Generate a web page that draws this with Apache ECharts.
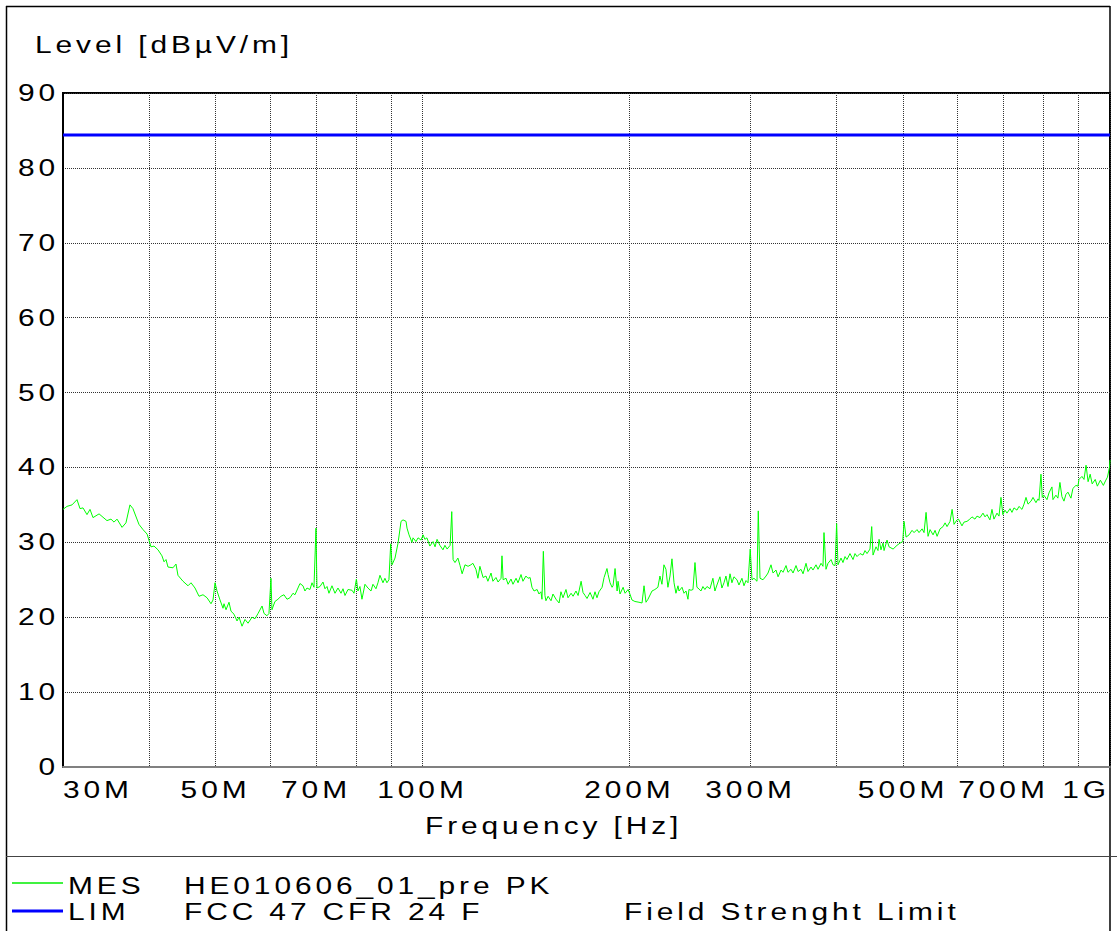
<!DOCTYPE html>
<html>
<head>
<meta charset="utf-8">
<script src="https://cdn.jsdelivr.net/npm/echarts@6/dist/echarts.min.js"></script>
<style>
  html, body { margin: 0; padding: 0; background: #fff; }
  #chart { width: 1117px; height: 931px; }
  #chart svg text { letter-spacing: 3px; }
</style>
</head>
<body>
<div id="chart"></div>
<script>
// Measured peak trace (MES): frequency in MHz and level in dBµV/m
const mesFreqMHz = [
  30.00, 30.40, 30.92, 31.44, 31.76, 32.08, 32.51, 32.84, 33.17, 33.85,
  34.76, 35.23, 35.59, 35.95, 36.56, 37.04, 37.54, 37.92, 38.69, 39.22,
  39.76, 40.28, 40.69, 41.24, 41.79, 42.08, 42.36, 42.64, 43.36, 43.80,
  44.09, 44.84, 45.60, 46.06, 46.68, 47.31, 47.95, 48.60, 49.25, 49.58,
  49.92, 50.25, 50.76, 51.27, 51.44, 51.79, 52.31, 52.66, 53.20, 53.73,
  54.09, 54.64, 55.19, 55.75, 56.50, 57.07, 57.65, 58.43, 58.82, 59.41,
  59.80, 60.20, 60.40, 61.01, 61.63, 62.25, 62.88, 63.52, 64.16, 64.81,
  65.24, 66.34, 67.01, 67.46, 67.92, 68.60, 69.07, 69.53, 70.00, 70.23,
  70.94, 71.66, 72.14, 72.63, 73.11, 73.85, 74.60, 75.35, 76.12, 76.63,
  77.14, 77.92, 78.97, 79.50, 80.15, 80.56, 81.10, 81.65, 82.48, 83.31,
  84.15, 84.71, 85.57, 86.14, 86.72, 87.60, 88.18, 88.77, 89.37, 89.90,
  90.30, 91.21, 92.14, 93.07, 93.69, 94.64, 94.95, 95.59, 96.55, 96.88,
  97.86, 98.52, 99.52, 100.2, 100.8, 101.5, 102.5, 103.6, 104.3, 105.0,
  106.0, 107.1, 107.8, 108.6, 109.7, 110.3, 110.8, 111.5, 112.6, 113.4,
  114.2, 115.3, 116.5, 117.6, 118.4, 119.6, 120.4, 121.2, 122.5, 123.7,
  124.5, 125.8, 126.6, 127.9, 128.8, 130.1, 130.5, 131.0, 132.3, 133.2,
  134.5, 135.4, 136.8, 137.7, 139.1, 140.0, 141.4, 142.4, 143.4, 144.3,
  145.3, 146.8, 147.7, 148.7, 149.2, 149.9, 150.7, 151.2, 152.3, 153.8,
  154.8, 156.4, 158.0, 159.0, 160.1, 161.7, 162.8, 164.5, 165.6, 167.2,
  168.4, 170.1, 171.2, 172.4, 173.5, 175.3, 177.0, 178.2, 179.4, 180.6,
  182.5, 183.7, 185.5, 186.2, 187.4, 188.7, 189.3, 190.6, 191.9, 192.5,
  193.8, 195.8, 197.1, 199.1, 200.3, 201.7, 203.7, 206.5, 208.6, 210.0,
  211.4, 212.8, 215.7, 217.8, 220.0, 221.5, 223.0, 224.5, 226.0, 227.5,
  229.1, 230.6, 232.2, 233.7, 235.3, 236.1, 238.5, 240.1, 241.7, 243.3,
  244.1, 245.8, 247.4, 249.1, 250.7, 251.6, 254.1, 255.8, 257.5, 259.3,
  261.9, 264.5, 266.3, 268.1, 270.8, 272.6, 274.5, 276.3, 278.2, 280.1,
  281.9, 283.8, 286.7, 288.6, 291.5, 293.5, 295.5, 297.5, 299.7, 301.5,
  303.5, 306.6, 307.9, 309.7, 312.8, 316.0, 318.1, 321.3, 323.5, 326.7,
  329.0, 332.3, 334.5, 337.9, 340.1, 343.6, 345.9, 349.4, 351.8, 355.3,
  357.7, 361.3, 363.7, 367.4, 369.8, 373.6, 376.1, 379.9, 382.4, 383.7,
  386.3, 388.9, 392.9, 395.5, 398.2, 400.3, 402.1, 406.2, 408.9, 411.7,
  414.4, 418.6, 422.9, 425.7, 428.6, 432.9, 437.3, 440.2, 443.2, 447.6,
  450.2, 452.2, 456.7, 459.8, 461.4, 464.4, 467.6, 469.2, 473.9, 477.1,
  483.6, 490.0, 495.0, 499.5, 501.7, 505.1, 510.2, 515.3, 518.8, 524.0,
  527.5, 532.9, 536.4, 540.1, 543.7, 547.4, 552.9, 556.6, 560.4, 566.0,
  571.7, 575.6, 579.4, 585.3, 589.3, 593.2, 599.0, 602.0, 609.1, 613.2,
  619.4, 623.6, 629.9, 636.2, 640.5, 647.0, 653.5, 658.0, 662.3, 668.9,
  673.5, 678.0, 684.9, 689.5, 694.1, 698.4, 703.5, 708.2, 715.4, 720.1,
  725.0, 732.3, 737.2, 744.7, 749.8, 754.8, 759.9, 767.6, 772.7, 780.4,
  785.8, 788.4, 793.6, 797.0, 801.3, 809.7, 815.1, 823.3, 826.1, 834.3,
  839.9, 845.6, 851.3, 857.1, 862.8, 868.6, 877.4, 883.2, 892.2, 898.2,
  901.2, 910.3, 916.6, 922.9, 929.3, 935.7, 942.1, 951.8, 958.5, 968.3,
  978.0, 984.9, 991.5, 998.2, 1000.0
];
const mesLevel = [
  34.4, 34.8, 35.0, 35.7, 34.5, 34.6, 33.7, 34.4, 33.3, 33.8,
  32.9, 33.1, 32.7, 33.1, 32.0, 32.6, 35.0, 34.5, 32.4, 31.7,
  31.1, 29.4, 29.5, 29.0, 28.2, 27.4, 27.7, 26.7, 26.6, 27.1,
  25.6, 24.8, 24.2, 24.6, 23.9, 22.8, 23.0, 22.6, 21.8, 22.3,
  24.6, 23.5, 22.3, 21.2, 21.8, 21.0, 22.0, 20.8, 20.4, 19.5,
  20.0, 18.8, 19.7, 19.2, 20.0, 19.8, 20.5, 21.5, 20.5, 20.2,
  20.5, 25.2, 21.0, 22.1, 22.4, 22.8, 23.0, 22.4, 22.6, 23.2,
  23.0, 24.5, 24.2, 23.5, 23.9, 23.7, 24.6, 24.0, 31.9, 23.9,
  24.1, 24.7, 23.8, 24.1, 23.2, 24.2, 23.2, 23.9, 23.2, 23.8,
  22.9, 23.7, 23.6, 23.2, 25.1, 23.5, 24.1, 22.4, 24.4, 23.9,
  23.5, 24.4, 23.8, 24.6, 25.6, 24.6, 25.2, 24.6, 25.0, 29.8,
  27.0, 27.9, 29.9, 32.8, 33.0, 32.8, 31.9, 31.0, 30.0, 30.6,
  30.1, 30.6, 30.3, 31.0, 30.4, 30.6, 29.5, 30.1, 29.4, 30.4,
  29.6, 29.0, 29.6, 29.1, 29.6, 34.1, 27.7, 27.3, 27.9, 26.9,
  25.8, 27.0, 26.8, 27.0, 27.2, 26.4, 25.2, 26.8, 25.3, 25.5,
  24.8, 25.9, 24.8, 25.3, 24.7, 25.2, 28.2, 25.0, 25.2, 24.4,
  25.1, 24.4, 25.2, 24.6, 25.7, 24.8, 25.5, 25.2, 25.3, 24.0,
  23.5, 23.7, 23.1, 23.4, 22.4, 28.8, 22.9, 22.2, 22.8, 22.2,
  23.1, 22.4, 21.9, 23.4, 22.6, 23.7, 22.6, 23.2, 22.8, 23.5,
  22.9, 24.8, 23.3, 22.9, 22.5, 23.3, 22.4, 23.4, 22.6, 23.4,
  24.0, 25.3, 26.5, 25.7, 24.6, 24.0, 24.2, 26.5, 23.5, 24.8,
  23.1, 24.0, 23.2, 23.7, 23.1, 22.3, 22.1, 22.0, 21.9, 24.2,
  22.0, 22.4, 23.5, 23.7, 24.0, 25.5, 24.4, 27.0, 26.4, 24.0,
  25.5, 27.8, 24.6, 23.2, 24.2, 23.5, 24.0, 23.2, 23.5, 22.4,
  23.7, 23.6, 23.7, 27.3, 24.0, 23.9, 23.5, 24.1, 23.7, 24.1,
  23.8, 25.2, 23.5, 24.3, 25.4, 23.9, 24.6, 25.5, 24.1, 25.8,
  24.6, 25.4, 25.0, 24.3, 25.2, 24.2, 24.9, 24.6, 29.1, 25.0,
  25.2, 24.8, 34.2, 25.2, 25.0, 25.5, 25.9, 27.0, 25.9, 26.3,
  25.4, 26.3, 26.0, 26.9, 26.0, 26.4, 25.9, 26.9, 26.1, 26.4,
  25.8, 27.2, 26.1, 26.7, 26.3, 27.0, 26.4, 27.2, 26.8, 31.3,
  26.4, 27.2, 27.7, 27.0, 26.9, 32.5, 27.0, 27.9, 27.3, 28.1,
  27.7, 28.5, 27.7, 28.5, 28.1, 28.5, 28.3, 28.9, 28.5, 29.1,
  32.1, 28.3, 29.4, 28.9, 30.4, 29.0, 29.9, 28.9, 30.3, 29.4,
  29.1, 29.6, 29.9, 30.1, 32.8, 30.7, 31.0, 31.6, 31.3, 31.7,
  31.3, 31.8, 31.3, 34.0, 30.8, 31.7, 31.0, 31.6, 30.8, 31.8,
  32.1, 32.6, 32.1, 32.8, 34.4, 32.4, 33.0, 33.1, 32.2, 32.7,
  32.8, 33.0, 33.4, 33.1, 33.5, 33.3, 33.9, 33.4, 33.7, 33.0,
  34.4, 33.1, 33.9, 33.5, 36.0, 33.7, 34.3, 33.9, 34.5, 34.0,
  34.6, 34.3, 34.8, 34.4, 35.1, 36.0, 35.1, 35.5, 36.0, 35.3,
  35.8, 35.6, 39.1, 36.0, 36.3, 35.7, 36.6, 37.4, 35.7, 36.3,
  35.9, 38.0, 36.1, 35.5, 36.4, 36.7, 35.9, 37.2, 37.6, 37.5,
  38.4, 38.8, 38.4, 40.3, 38.1, 39.1, 37.8, 38.4, 37.5, 38.3,
  37.6, 38.2, 38.7, 40.0, 41.0
];

// Limit line (LIM): FCC 47 CFR 24 field strength limit
const limFreqMHz = [30, 1000];
const limLevel = [84.4, 84.4];

// Frequency grid (MHz) and labelled frequencies
const gridFreqMHz = [30, 40, 50, 60, 70, 80, 90, 100, 200, 300, 400, 500, 600, 700, 800, 900, 1000];
const labelFreqMHz = [30, 50, 70, 100, 200, 300, 500, 700, 1000];

// Level axis range
const levelMin = 0;
const levelMax = 90;
const levelStep = 10;

// Legend / header texts
const yTitle = 'Level [dBµV/m]';
const xTitle = 'Frequency [Hz]';
const legendRows = [
  { tag: 'MES', trace: 'HE010606_01_pre PK', note: '' },
  { tag: 'LIM', trace: 'FCC 47 CFR 24 F', note: 'Field Strenght Limit' }
];

const FONT_FAMILY = '"Liberation Sans", Arial, Helvetica, sans-serif';
const FONT_SIZE = 23;
const FONT = FONT_SIZE + 'px ' + FONT_FAMILY;
const GLYPH_STRETCH = 1.3;
const GRID_COLOR = '#333';

function freqLabel(v) {
  const f = Math.round(v);
  return f >= 1000 ? (f / 1000) + 'G' : f + 'M';
}

const chart = echarts.init(document.getElementById('chart'), null, { renderer: 'svg' });

const textItem = (x, y, text) => ({
  type: 'text', x: x, y: y, silent: true,
  style: { text: text, font: FONT, fill: '#000', textAlign: 'left', textVerticalAlign: 'middle' }
});
const lineItem = (x1, y1, x2, y2, stroke, w) => ({
  type: 'line', silent: true,
  shape: { x1: x1, y1: y1, x2: x2, y2: y2 },
  style: { stroke: stroke, lineWidth: w }
});

chart.setOption({
  animation: false,
  backgroundColor: '#fff',
  grid: {
    left: 63, top: 93, width: 1047, height: 674,
    show: true, borderColor: '#000', borderWidth: 2, backgroundColor: 'transparent'
  },
  xAxis: {
    type: 'log', logBase: 10, min: 30, max: 1000,
    axisLine: { show: true, onZero: false, lineStyle: { color: '#808080', width: 2 } },
    axisTick: { show: false, customValues: gridFreqMHz },
    minorTick: { show: false },
    minorSplitLine: { show: false },
    splitLine: { show: true, lineStyle: { color: GRID_COLOR, width: 1, type: [1, 1] } },
    axisLabel: {
      customValues: labelFreqMHz,
      formatter: freqLabel,
      color: '#000', fontSize: FONT_SIZE, fontFamily: FONT_FAMILY,
      margin: 11, showMinLabel: true, showMaxLabel: true, hideOverlap: false,
      alignMinLabel: 'left', alignMaxLabel: 'right'
    }
  },
  yAxis: {
    type: 'value', min: levelMin, max: levelMax, interval: levelStep,
    axisLine: { show: true, lineStyle: { color: '#000', width: 2 } },
    axisTick: { show: false },
    splitLine: { show: true, lineStyle: { color: GRID_COLOR, width: 1, type: [1, 1] } },
    axisLabel: { color: '#000', fontSize: FONT_SIZE, fontFamily: FONT_FAMILY, margin: 4 }
  },
  series: [
    {
      name: 'MES', type: 'line', showSymbol: false, symbol: 'none', z: 3,
      lineStyle: { color: '#00ff00', width: 1 },
      data: mesFreqMHz.map((f, i) => [f, mesLevel[i]])
    },
    {
      name: 'LIM', type: 'line', showSymbol: false, symbol: 'none', z: 4,
      lineStyle: { color: '#0000ff', width: 3 },
      data: limFreqMHz.map((f, i) => [f, limLevel[i]])
    }
  ],
  graphic: [
    // page frame and legend separator
    lineItem(6.5, 6, 6.5, 931, '#000', 1.5),
    lineItem(6, 6.5, 1110, 6.5, '#000', 1.5),
    lineItem(1110, 6, 1110, 931, '#000', 1.5),
    lineItem(6, 856.5, 1117, 856.5, '#444', 1),
    // axis titles
    textItem(35, 45, yTitle),
    textItem(425, 826, xTitle),
    // legend rows
    lineItem(12, 883, 63, 883, '#00ee00', 1.3),
    textItem(68, 886, legendRows[0].tag),
    textItem(184, 886, legendRows[0].trace),
    lineItem(12, 911, 63, 911, '#0000ff', 3),
    textItem(68, 912, legendRows[1].tag),
    textItem(184, 912, legendRows[1].trace),
    textItem(624, 912, legendRows[1].note)
  ]
});

// Widen the glyphs of every text run to the plotter's broad lettering
function widenText() {
  document.querySelectorAll('#chart svg text').forEach(t => {
    if (t.getAttribute('lengthAdjust')) return;
    const w = t.getComputedTextLength();
    if (w > 0) {
      t.setAttribute('textLength', (w * GLYPH_STRETCH).toFixed(1));
      t.setAttribute('lengthAdjust', 'spacingAndGlyphs');
    }
  });
}
widenText();
chart.on('finished', widenText);
</script>
</body>
</html>
